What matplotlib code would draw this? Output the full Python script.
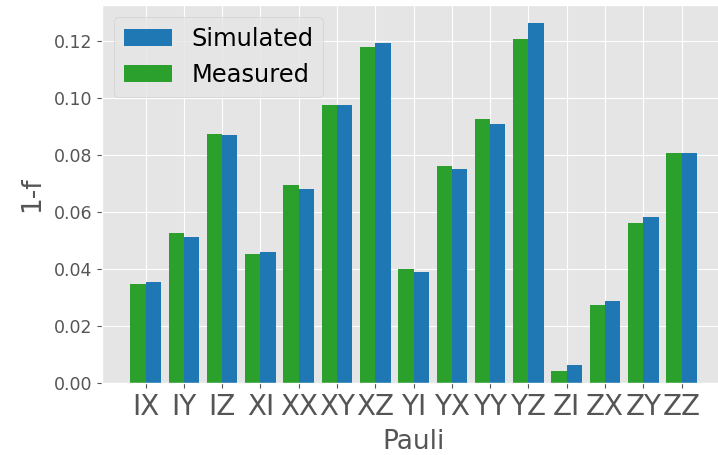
import matplotlib
matplotlib.use("Agg")
import matplotlib.pyplot as plt
import numpy as np

plt.style.use("ggplot")

paulis = ["IX", "IY", "IZ", "XI", "XX", "XY", "XZ", "YI", "YX", "YY", "YZ", "ZI", "ZX", "ZY", "ZZ"]
simulated = [0.0355, 0.0514, 0.0870, 0.0460, 0.0682, 0.0974, 0.1193, 0.0391,
             0.0749, 0.0907, 0.1262, 0.0063, 0.0290, 0.0582, 0.0805]
measured = [0.0347, 0.0525, 0.0872, 0.0452, 0.0694, 0.0976, 0.1178, 0.0402,
            0.0761, 0.0925, 0.1207, 0.0044, 0.0275, 0.0563, 0.0808]

fig = plt.figure(figsize=(7.18, 4.55), dpi=100)
ax = fig.add_axes([0.142, 0.1576, 0.868, 0.8314])

x = np.arange(len(paulis))
w = 0.4
ax.bar(x, simulated, width=w, align="edge", color="#1f77b4", label="Simulated",
       linewidth=0)
ax.bar(x, measured, width=-w, align="edge", color="#2ca02c", label="Measured",
       linewidth=0)

ax.set_xticks(x)
ax.set_xticklabels(paulis, fontsize=20)
ax.tick_params(axis="y", labelsize=12.5)
ax.set_xlabel("Pauli", fontsize=19, labelpad=6)
ax.set_ylabel("1-f", fontsize=19, labelpad=6)
ax.legend(loc="upper left", fontsize=17.4)

fig.savefig("out.png", dpi=100)
